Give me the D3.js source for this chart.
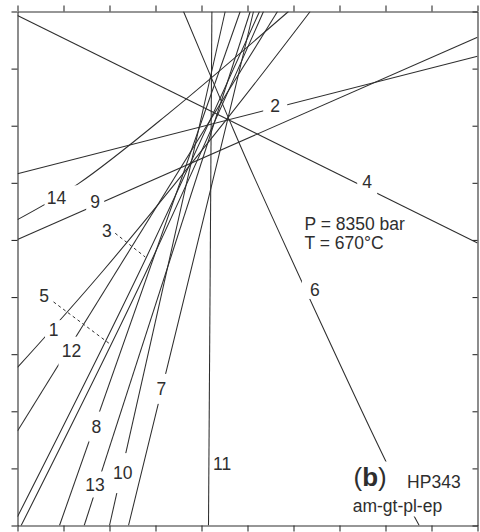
<!DOCTYPE html>
<html>
<head>
<meta charset="utf-8">
<script src="https://cdn.jsdelivr.net/npm/d3@7"></script>
<style>
  html, body { margin: 0; padding: 0; background: #fff; }
  svg { display: block; font-family: "Liberation Sans", Arial, Helvetica, sans-serif; }
</style>
</head>
<body>
<svg id="chart" width="480" height="532"></svg>
<script>
// ---- Reaction lines (diagram units: x 0–10, y 0–9) ----
const reactionIds = ["1", "2", "3", "4", "5", "6", "7", "8", "9", "10", "11", "12", "13", "14"];
const reactionTraces = [
  [[0, 2.767], [1.870, 4.469], [4.580, 7.146], [6.363, 9.0]],                       // 1
  [[0, 6.161], [10, 8.218]],                                                       // 2
  [[0, 0.154], [2.667, 4.469], [5.261, 9.0]],                                       // 3
  [[0, 8.930], [10, 4.947]],                                                       // 4
  [[0.074, -0.009], [2.813, 4.469], [5.348, 9.0]],                                  // 5
  [[3.609, 9.0], [4.580, 7.146], [5.167, 6.061], [8.065, 1.029], [8.733, 0]],      // 6
  [[2.413, 0], [4.580, 7.146], [5.130, 9.0]],                                       // 7
  [[0.913, 0], [4.841, 9.0]],                                                      // 8
  [[0, 5.006], [10, 8.550]],                                                       // 9
  [[2.0, 0], [4.515, 9.0]],                                                        // 10
  [[4.152, 0], [4.226, 9.0]],                                                      // 11
  [[0, 1.653], [5.652, 9.0]],                                                      // 12
  [[1.450, 0], [5.059, 9.0]],                                                      // 13
  [[0, 5.356], [1.326, 5.986], [3.320, 7.238], [5.891, 9.0]]                        // 14
];

// ---- Reaction number labels (text baseline centre, diagram units) ----
const labelText = ["1", "2", "3", "4", "5", "6", "7", "8", "9", "10", "11", "12", "13", "14"];
const labelPos = [
  [0.783, 3.320], [5.602, 7.233], [1.943, 5.052], [7.602, 5.913], [0.576, 3.915],
  [6.465, 4.015], [3.128, 2.283], [1.715, 1.623], [1.689, 5.566], [2.287, 0.808],
  [4.450, 0.971], [1.174, 2.942], [1.683, 0.609], [0.848, 5.636]
];
// Break left in each line around its number: [left, top, right, bottom] px from the label centre
const labelBreak = [
  [8.5, 9.5, 8.5, 9.5], [12, 8, 12, 8], null, [10, 13, 10, 13], null,
  [13, 9, 13, 9], [8, 15, 8, 15], [8, 15, 8, 15], [9, 9, 9, 9], [9, 20, 9, 20],
  null, [13, 14.5, 13, 14.5], [9, 13, 9, 13], [12, 12, 22, 8]
];

// Dashed leaders for labels 3 and 5
const leaderIds = ["3", "5"];
const leaderTraces = [
  [[2.124, 5.117], [2.776, 4.702]],
  [[0.783, 3.915], [2.015, 3.175]]
];

// Conditions and panel annotation
const conditionLines = ["P = 8350 bar", "T = 670°C"];
const conditionPos = [[6.240, 5.178], [6.240, 4.849]];
const panelTag = "b";
const sampleName = "HP343";
const assemblage = "am-gt-pl-ep";

// Unlabelled frame ticks
const xTicks = d3.range(0, 11);
const yTicks = d3.range(0, 10);

// ---- Layout ----
const plot = { left: 17.5, top: 11.5, right: 477.5, bottom: 525.5 };
const ink = "#2e2e2e";
const fontSize = 17.5;

const x = d3.scaleLinear().domain([0, 10]).range([plot.left, plot.right]);
const y = d3.scaleLinear().domain([0, 9]).range([plot.bottom, plot.top]);

const svg = d3.select("#chart");
const defs = svg.append("defs");

defs.append("clipPath").attr("id", "plotClip")
  .append("rect")
  .attr("x", plot.left).attr("y", plot.top)
  .attr("width", plot.right - plot.left).attr("height", plot.bottom - plot.top);

// ---- Text (drawn first so the mask can use its extent) ----
const textLayer = svg.append("g").attr("fill", ink);

textLayer.selectAll("text.rx")
  .data(labelText)
  .join("text")
  .attr("class", "rx")
  .attr("x", (d, i) => x(labelPos[i][0]))
  .attr("y", (d, i) => y(labelPos[i][1]))
  .attr("text-anchor", "middle")
  .attr("font-size", fontSize)
  .text(d => d);

textLayer.selectAll("text.cond")
  .data(conditionLines)
  .join("text")
  .attr("class", "cond")
  .attr("x", (d, i) => x(conditionPos[i][0]))
  .attr("y", (d, i) => y(conditionPos[i][1]))
  .attr("font-size", fontSize)
  .text(d => d);

const tagBlock = textLayer.append("g");
const tag = tagBlock.append("text")
  .attr("x", x(7.305)).attr("y", y(0.683))
  .attr("font-size", 26);
tag.append("tspan").text("(");
tag.append("tspan").attr("font-weight", "bold").text(panelTag);
tag.append("tspan").text(")");
tagBlock.append("text")
  .attr("x", x(8.470)).attr("y", y(0.662))
  .attr("font-size", fontSize)
  .text(sampleName);
tagBlock.append("text")
  .attr("x", x(7.287)).attr("y", y(0.245))
  .attr("font-size", fontSize)
  .text(assemblage);

// ---- Mask: breaks in the lines where numbers and the panel tag sit ----
const mask = defs.append("mask").attr("id", "lineBreaks")
  .attr("maskUnits", "userSpaceOnUse")
  .attr("x", 0).attr("y", 0).attr("width", 480).attr("height", 532);
mask.append("rect").attr("x", 0).attr("y", 0).attr("width", 480).attr("height", 532).attr("fill", "#fff");
labelBreak.forEach((b, i) => {
  if (!b) return;
  const cx = x(labelPos[i][0]);
  const cy = y(labelPos[i][1]) - 6.25;
  mask.append("rect")
    .attr("x", cx - b[0]).attr("y", cy - b[1])
    .attr("width", b[0] + b[2]).attr("height", b[1] + b[3])
    .attr("fill", "#000");
});
const tb = tagBlock.node().getBBox();
mask.append("rect")
  .attr("x", tb.x - 2).attr("y", tb.y - 1)
  .attr("width", tb.width + 4).attr("height", tb.height + 2)
  .attr("fill", "#000");

// ---- Reaction lines ----
const line = d3.line()
  .x(d => x(d[0]))
  .y(d => y(d[1]))
  .curve(d3.curveCatmullRom.alpha(0.5));

svg.append("g")
  .attr("clip-path", "url(#plotClip)")
  .append("g")
  .attr("mask", "url(#lineBreaks)")
  .selectAll("path")
  .data(reactionTraces)
  .join("path")
  .attr("d", line)
  .attr("fill", "none")
  .attr("stroke", ink)
  .attr("stroke-width", 1.05);

svg.append("g")
  .selectAll("path")
  .data(leaderTraces)
  .join("path")
  .attr("d", d3.line().x(d => x(d[0])).y(d => y(d[1])))
  .attr("fill", "none")
  .attr("stroke", ink)
  .attr("stroke-width", 1)
  .attr("stroke-dasharray", "3,3");

// ---- Frame with tick marks ----
function styleAxis(g) {
  g.selectAll("path, line").attr("stroke", ink).attr("stroke-width", 1.1);
  g.selectAll("text").remove();
}
svg.append("g").attr("transform", `translate(0,${plot.top})`)
  .call(d3.axisTop(x).tickValues(xTicks).tickSizeInner(6).tickSizeOuter(0).tickFormat(""))
  .call(styleAxis);
svg.append("g").attr("transform", `translate(0,${plot.bottom})`)
  .call(d3.axisBottom(x).tickValues(xTicks).tickSizeInner(6).tickSizeOuter(0).tickFormat(""))
  .call(styleAxis);
svg.append("g").attr("transform", `translate(${plot.left},0)`)
  .call(d3.axisLeft(y).tickValues(yTicks).tickSizeInner(6).tickSizeOuter(0).tickFormat(""))
  .call(styleAxis);
svg.append("g").attr("transform", `translate(${plot.right},0)`)
  .call(d3.axisRight(y).tickValues(yTicks).tickSizeInner(-5).tickSizeOuter(0).tickFormat(""))
  .call(styleAxis);
</script>
</body>
</html>
